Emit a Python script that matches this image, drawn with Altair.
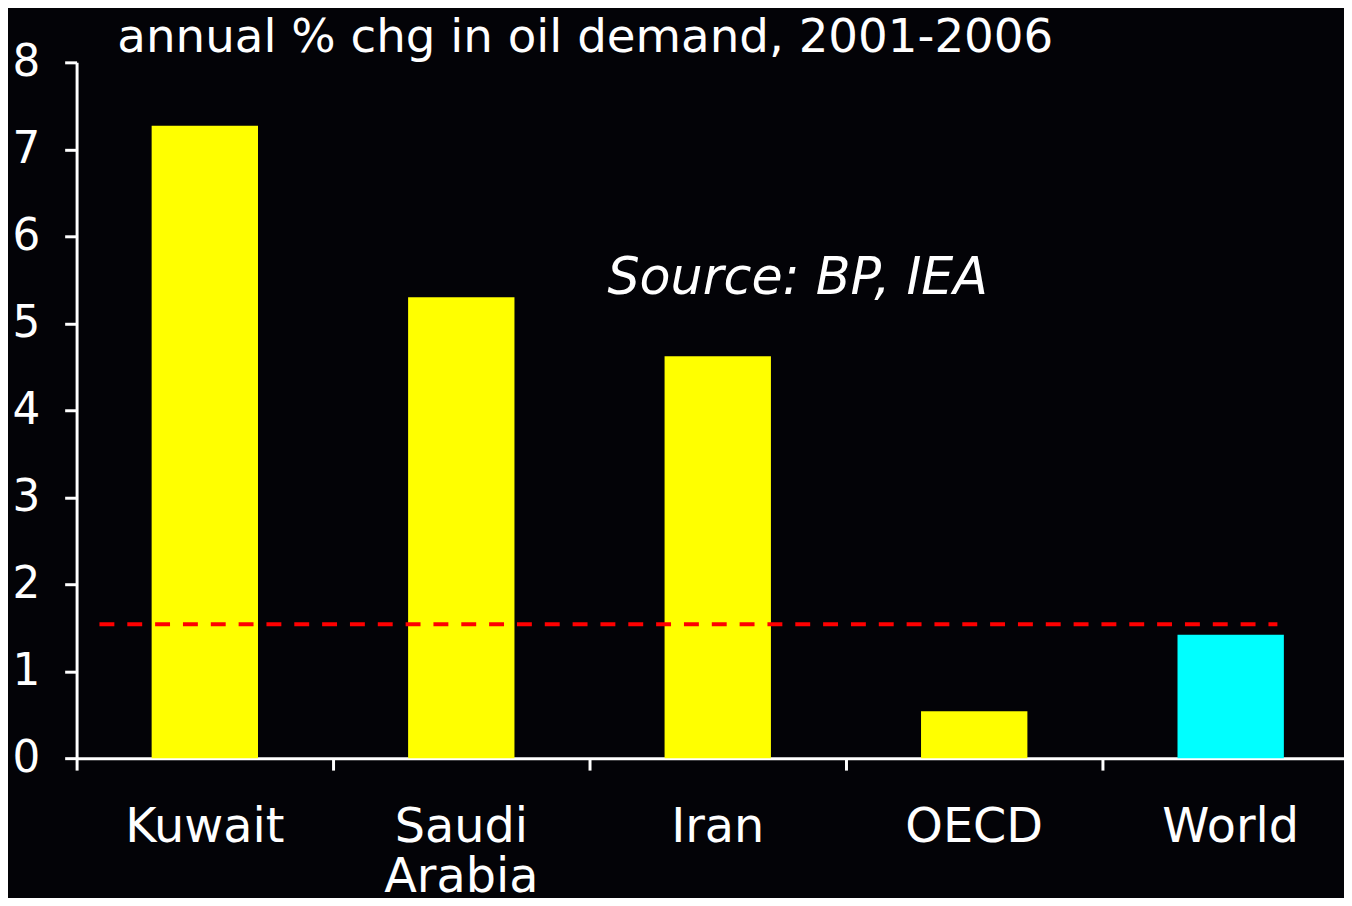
import altair as alt
import pandas as pd

# ---- data ----
categories = ["Kuwait", "Saudi Arabia", "Iran", "OECD", "World"]
values = [7.27, 5.30, 4.62, 0.54, 1.42]
bar_colors = ["#FFFF00", "#FFFF00", "#FFFF00", "#FFFF00", "#00FFFF"]
avg_line = [1.54]
y_ticks = [0, 1, 2, 3, 4, 5, 6, 7, 8]
title_text = ["annual % chg in oil demand, 2001-2006"]
source_text = ["Source:  BP,  IEA"]

FONT = "DejaVu Sans"
BG = "#030307"

bars_df = pd.DataFrame({"region": categories, "chg": values, "color": bar_colors})
avg_df = pd.DataFrame({"avg": avg_line})
src_df = pd.DataFrame({"t": source_text})
title_df = pd.DataFrame({"t": title_text})

x_enc = alt.X(
    "region:N",
    sort=categories,
    title=None,
    scale=alt.Scale(range=[0, 1290], paddingInner=0, paddingOuter=0),
    axis=alt.Axis(
        bandPosition=0,
        labelAngle=0,
        labelExpr="split(datum.label, ' ')",
        labelFont=FONT,
        labelFontSize=48,
        labelColor="white",
        labelPadding=34,
        labelLineHeight=50,
        domainColor="white",
        domainWidth=3,
        tickColor="white",
        tickWidth=3,
        tickSize=12,
        grid=False,
    ),
)

y_enc = alt.Y(
    "chg:Q",
    title=None,
    scale=alt.Scale(domain=[0, 8], nice=False, zero=True),
    axis=alt.Axis(
        values=y_ticks,
        format="d",
        grid=False,
        labelFont=FONT,
        labelFontSize=44,
        labelColor="white",
        labelPadding=25,
        domainColor="white",
        domainWidth=3,
        tickColor="white",
        tickWidth=3,
        tickSize=12,
    ),
)

bars = alt.Chart(bars_df).mark_bar(width=107).encode(
    x=x_enc,
    y=y_enc,
    color=alt.Color("color:N", scale=None, legend=None),
)

avg_rule = alt.Chart(avg_df).mark_rule(
    color="#FF0000", strokeWidth=4, strokeDash=[15, 13]
).encode(
    y=alt.Y("avg:Q"),
    x=alt.value(23),
    x2=alt.value(1208),
)

source = alt.Chart(src_df).mark_text(
    font=FONT,
    fontSize=51,
    fontStyle="italic",
    color="white",
    align="left",
    baseline="alphabetic",
).encode(
    text="t:N",
    x=alt.value(534),
    y=alt.value(233),
)

title = alt.Chart(title_df).mark_text(
    font=FONT,
    fontSize=47,
    color="white",
    align="left",
    baseline="alphabetic",
).encode(
    text="t:N",
    x=alt.value(41),
    y=alt.value(-10),
)

chart = (
    alt.layer(bars, avg_rule, source, title)
    .properties(
        width=1275,
        height=700,
        autosize=alt.AutoSizeParams(type="none"),
        padding={"left": 69, "top": 52, "right": 0, "bottom": 138},
        background=BG,
    )
    .configure_view(stroke=None)
)

chart.save("out.html", embed_options={"renderer": "svg", "actions": False})
